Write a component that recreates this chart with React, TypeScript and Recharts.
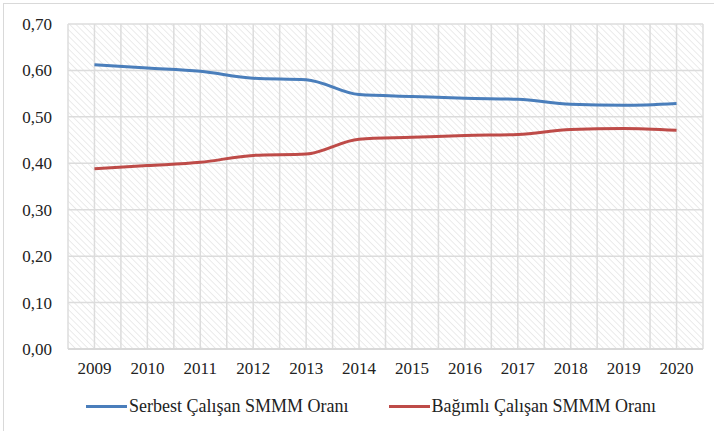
import { LineChart, Line, XAxis, YAxis, CartesianGrid, Legend } from "recharts";

const years = [2009, 2010, 2011, 2012, 2013, 2014, 2015, 2016, 2017, 2018, 2019, 2020];
const serbest = [0.612, 0.605, 0.598, 0.583, 0.58, 0.548, 0.544, 0.54, 0.538, 0.527, 0.525, 0.529];
const bagimli = [0.388, 0.395, 0.402, 0.417, 0.42, 0.452, 0.456, 0.46, 0.462, 0.473, 0.475, 0.471];
const yTicks = [0, 0.1, 0.2, 0.3, 0.4, 0.5, 0.6, 0.7];

const SERBEST_NAME = "Serbest Çalışan SMMM Oranı";
const BAGIMLI_NAME = "Bağımlı Çalışan SMMM Oranı";
const BLUE = "#4a7ebb";
const RED = "#be4b48";
const FONT = "Times New Roman, Liberation Serif, DejaVu Serif, serif";

const data = years.map((y, i) => ({ year: y, serbest: serbest[i], bagimli: bagimli[i] }));

// gridlines at every category centre and every boundary between categories
const xTicks: number[] = [];
for (let i = 0; i <= years.length * 2; i++) xTicks.push(years[0] - 0.5 + i * 0.5);

function LegendBox() {
  const items = [
    { name: SERBEST_NAME, color: BLUE },
    { name: BAGIMLI_NAME, color: RED },
  ];
  return (
    <div style={{ display: "flex", height: 52, alignItems: "center", paddingLeft: 86, paddingTop: 2, boxSizing: "border-box", fontFamily: FONT, fontSize: 18, color: "#222" }}>
      {items.map((it, i) => (
        <div key={it.name} style={{ display: "flex", alignItems: "center", marginLeft: i === 0 ? 0 : 40 }}>
          <span style={{ display: "inline-block", width: 41, height: 3, background: it.color, marginRight: 2 }} />
          <span>{it.name}</span>
        </div>
      ))}
    </div>
  );
}

export default function App() {
  return (
    <div style={{ position: "absolute", left: 0, top: 0, width: 714, height: 431, background: "#fff", overflow: "hidden", fontFamily: FONT }}>
      <div style={{ position: "absolute", left: 3, top: 3, width: 730, height: 450, border: "1px solid #d9d9d9" }} />
      <LineChart width={714} height={431} data={data} margin={{ top: 24, right: 11, bottom: 0, left: 0 }} style={{ fontFamily: FONT }}>
        <defs>
          <pattern id="hatch" patternUnits="userSpaceOnUse" width="4.5" height="4.5" patternTransform="rotate(-45)">
            <rect width="4.5" height="4.5" fill="#ffffff" />
            <line x1="0" y1="0" x2="0" y2="4.5" stroke="#dedede" strokeWidth="1.2" />
          </pattern>
        </defs>
        <CartesianGrid fill="url(#hatch)" stroke="#dcdcdc" strokeWidth={1.5} />
        <XAxis
          dataKey="year"
          type="number"
          domain={[years[0] - 0.5, years[years.length - 1] + 0.5]}
          ticks={xTicks}
          interval={0}
          tickFormatter={(v: number) => (Number.isInteger(v) ? String(v) : "")}
          tickLine={false}
          tickSize={0}
          tickMargin={13}
          height={30}
          axisLine={{ stroke: "#d9d9d9", strokeWidth: 2 }}
          tick={{ fontFamily: FONT, fontSize: 17, fill: "#222" }}
        />
        <YAxis
          domain={[0, 0.7]}
          ticks={yTicks}
          interval={0}
          tickFormatter={(v: number) => v.toFixed(2).replace(".", ",")}
          tickLine={false}
          tickSize={0}
          tickMargin={16}
          axisLine={false}
          width={68}
          tick={{ fontFamily: FONT, fontSize: 17, fill: "#222" }}
        />
        <Legend verticalAlign="bottom" height={52} content={<LegendBox />} />
        <Line
          type="monotone"
          dataKey="serbest"
          name={SERBEST_NAME}
          stroke={BLUE}
          strokeWidth={3}
          dot={false}
          isAnimationActive={false}
        />
        <Line
          type="monotone"
          dataKey="bagimli"
          name={BAGIMLI_NAME}
          stroke={RED}
          strokeWidth={3}
          dot={false}
          isAnimationActive={false}
        />
      </LineChart>
    </div>
  );
}
